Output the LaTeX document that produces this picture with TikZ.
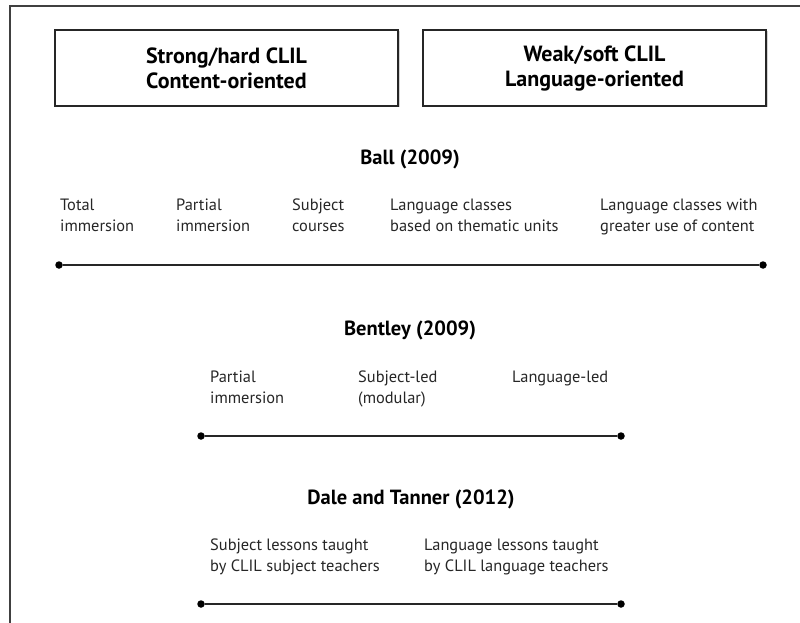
\documentclass[tikz,border=0pt]{standalone}
\usepackage{fontspec}
\setmainfont{PT Sans}
\usetikzlibrary{shadows}
\begin{document}
\begin{tikzpicture}[x=1pt,y=-1pt,
  catbox/.style={draw=black!85, line width=1.3pt, fill=white, minimum width=343pt, minimum height=76pt, align=center, font=\fontsize{22}{25}\selectfont\bfseries, drop shadow={shadow xshift=1.5pt, shadow yshift=-1.5pt, opacity=0.35}},
  heading/.style={font=\fontsize{20.5}{22}\selectfont\bfseries, inner sep=0pt},
  lbl/.style={anchor=north west, align=left, inner sep=0pt, font=\fontsize{16.4}{20.5}\selectfont, text=black!85},
  endpt/.style={circle, fill=black, inner sep=0pt, minimum size=7.5pt},
  scale line/.style={line width=2.2pt, black!85}
]
\useasboundingbox (0,0) rectangle (800,623);
% frame
\draw[line width=1.3pt, black!75] (10,623) -- (10,6) -- (800,6);
% category boxes
\node[catbox] (strong) at (226.5,68) {Strong/hard CLIL\\Content-oriented};
\node[catbox] (weak) at (594.5,68) {Weak/soft CLIL\\Language-oriented};
% Ball (2009)
\node[heading] (ball) at (410,159) {Ball (2009)};
\node[lbl] (b1) at (60,199) {Total\\immersion};
\node[lbl] (b2) at (176,199) {Partial\\immersion};
\node[lbl] (b3) at (292,199) {Subject\\courses};
\node[lbl] (b4) at (390,199) {Language classes\\based on thematic units};
\node[lbl] (b5) at (600,199) {Language classes with\\greater use of content};
\node[endpt] (ballL) at (59,265) {};
\node[endpt] (ballR) at (763,265) {};
\draw[scale line] (ballL) -- (ballR);
% Bentley (2009)
\node[heading] (bent) at (410,330) {Bentley (2009)};
\node[lbl] (t1) at (210,371) {Partial\\immersion};
\node[lbl] (t2) at (358,371) {Subject-led\\(modular)};
\node[lbl] (t3) at (512,371) {Language-led};
\node[endpt] (bentL) at (201,436) {};
\node[endpt] (bentR) at (621,436) {};
\draw[scale line] (bentL) -- (bentR);
% Dale and Tanner (2012)
\node[heading] (dale) at (411,499) {Dale and Tanner (2012)};
\node[lbl] (d1) at (210,539) {Subject lessons taught\\by CLIL subject teachers};
\node[lbl] (d2) at (424,539) {Language lessons taught\\by CLIL language teachers};
\node[endpt] (daleL) at (201,604) {};
\node[endpt] (daleR) at (621,604) {};
\draw[scale line] (daleL) -- (daleR);
\end{tikzpicture}
\end{document}
